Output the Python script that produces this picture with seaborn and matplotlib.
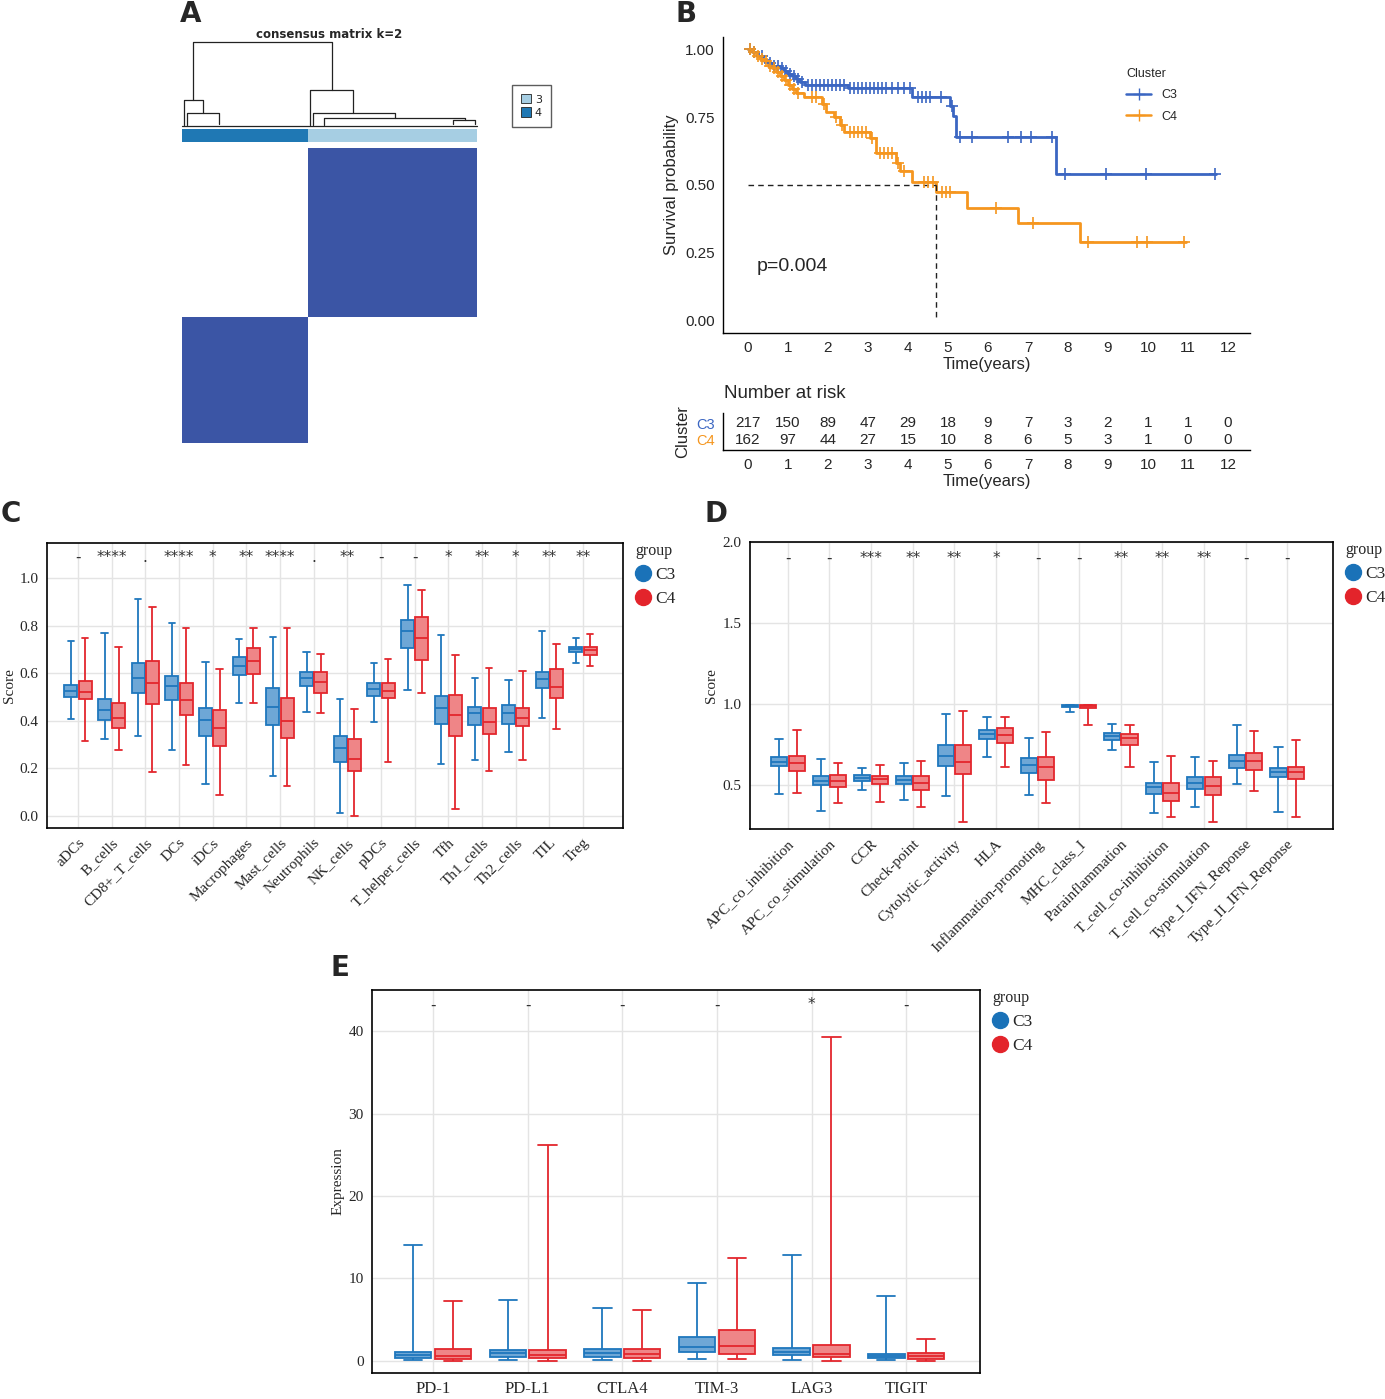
import numpy as np
import pandas as pd
import matplotlib
matplotlib.use('Agg')
import matplotlib.pyplot as plt
import seaborn as sns
from matplotlib.colors import ListedColormap
from matplotlib.lines import Line2D
from matplotlib.patches import Patch

# ---------------- A: consensus clustering ----------------
n_c3, n_c4 = 217, 162
# dendrogram links: (x_left, x_right, height, left child height, right child height), x in sample index
dendro_links = [
    (14.6, 193.1, 1.00, 0.318, 0.435),
    (2.6, 27.4, 0.318, 0.02, 0.161),
    (6.9, 48.0, 0.161, 0.02, 0.03),
    (164.5, 219.3, 0.435, 0.02, 0.169),
    (168.7, 273.7, 0.169, 0.02, 0.102),
    (182.9, 363.6, 0.102, 0.02, 0.082),
    (348.6, 376.4, 0.082, 0.03, 0.03),
]

# ---------------- B: Kaplan-Meier ----------------
km_c3_time = [0, 0.12, 0.25, 0.38, 0.5, 0.62, 0.8, 0.9, 1.0, 1.1, 1.2, 1.3, 1.42, 2.5, 4.1, 5.06, 5.13, 5.2, 7.71]
km_c3_surv = [1.0, 0.99, 0.975, 0.962, 0.95, 0.94, 0.93, 0.92, 0.91, 0.90, 0.89, 0.88, 0.868, 0.858, 0.824, 0.79, 0.755, 0.678, 0.542]
km_c3_end = 11.7
km_c3_censor = [0.05, 0.15, 0.35, 0.55, 0.65, 0.75, 0.85, 0.95, 1.05, 1.15, 1.25, 1.35, 1.5, 1.6, 1.7, 1.8, 1.9, 2.0,
                2.1, 2.2, 2.3, 2.4, 2.55, 2.65, 2.75, 2.85, 2.95, 3.05, 3.15, 3.25, 3.35, 3.45, 3.6, 3.75, 3.9, 4.05,
                4.25, 4.35, 4.45, 4.55, 4.82, 5.1, 5.3, 5.59, 6.49, 6.83, 7.07, 7.59, 7.93, 8.95, 9.95, 11.67]
km_c4_time = [0, 0.1, 0.2, 0.3, 0.4, 0.5, 0.6, 0.7, 0.8, 0.9, 1.0, 1.1, 1.2, 1.4, 1.85, 1.95, 2.15, 2.3, 2.4,
              3.05, 3.2, 3.7, 3.8, 4.1, 4.7, 5.47, 6.76, 8.31]
km_c4_surv = [1.0, 0.99, 0.975, 0.965, 0.955, 0.94, 0.93, 0.915, 0.9, 0.885, 0.87, 0.855, 0.84, 0.825, 0.80, 0.77,
              0.75, 0.72, 0.695, 0.674, 0.616, 0.58, 0.551, 0.512, 0.474, 0.416, 0.359, 0.289]
km_c4_end = 10.94
km_c4_censor = [0.05, 0.15, 0.25, 0.35, 0.45, 0.55, 0.65, 0.75, 0.85, 0.95, 1.05, 1.15, 1.25, 1.6, 1.7, 1.9, 2.2,
                2.35, 2.55, 2.65, 2.75, 2.85, 2.95, 3.1, 3.3, 3.4, 3.5, 3.6, 3.75, 3.9, 4.4, 4.5, 4.62, 4.85, 4.95,
                5.05, 6.21, 7.12, 8.5, 9.72, 9.98, 10.9]
median_c4 = 4.7
p_label = 'p=0.004'
risk_times = list(range(13))
risk_c3 = [217, 150, 89, 47, 29, 18, 9, 7, 3, 2, 1, 1, 0]
risk_c4 = [162, 97, 44, 27, 15, 10, 8, 6, 5, 3, 1, 0, 0]

# ---------------- C: immune cells ----------------
# (low whisker, q1, median, q3, high whisker)
immune_cells = ['aDCs', 'B_cells', 'CD8+_T_cells', 'DCs', 'iDCs', 'Macrophages', 'Mast_cells', 'Neutrophils',
                'NK_cells', 'pDCs', 'T_helper_cells', 'Tfh', 'Th1_cells', 'Th2_cells', 'TIL', 'Treg']
immune_sig = ['-', '****', '.', '****', '*', '**', '****', '.', '**', '-', '-', '*', '**', '*', '**', '**']
immune_c3 = [(0.408, 0.499, 0.527, 0.551, 0.736), (0.324, 0.405, 0.445, 0.490, 0.767),
             (0.337, 0.516, 0.579, 0.644, 0.912), (0.278, 0.488, 0.546, 0.589, 0.813),
             (0.136, 0.337, 0.403, 0.452, 0.648), (0.474, 0.593, 0.631, 0.670, 0.743),
             (0.168, 0.381, 0.460, 0.536, 0.752), (0.436, 0.548, 0.581, 0.606, 0.689),
             (0.013, 0.229, 0.285, 0.338, 0.492), (0.397, 0.506, 0.534, 0.561, 0.642),
             (0.530, 0.704, 0.776, 0.825, 0.972), (0.220, 0.388, 0.456, 0.506, 0.762),
             (0.237, 0.383, 0.432, 0.459, 0.578), (0.271, 0.387, 0.431, 0.468, 0.572),
             (0.411, 0.539, 0.576, 0.607, 0.778), (0.641, 0.690, 0.701, 0.712, 0.750)]
immune_c4 = [(0.317, 0.491, 0.523, 0.567, 0.746), (0.278, 0.369, 0.411, 0.473, 0.711),
             (0.185, 0.471, 0.557, 0.651, 0.879), (0.216, 0.426, 0.488, 0.561, 0.790),
             (0.087, 0.295, 0.370, 0.445, 0.617), (0.477, 0.597, 0.652, 0.708, 0.790),
             (0.128, 0.327, 0.401, 0.496, 0.790), (0.431, 0.519, 0.565, 0.604, 0.679),
             (0.000, 0.191, 0.241, 0.324, 0.450), (0.226, 0.494, 0.526, 0.558, 0.659),
             (0.516, 0.655, 0.750, 0.837, 0.950), (0.028, 0.338, 0.425, 0.509, 0.676),
             (0.188, 0.344, 0.397, 0.452, 0.623), (0.237, 0.377, 0.411, 0.454, 0.609),
             (0.367, 0.496, 0.544, 0.619, 0.721), (0.631, 0.676, 0.696, 0.712, 0.766)]

# ---------------- D: immune functions ----------------
immune_funcs = ['APC_co_inhibition', 'APC_co_stimulation', 'CCR', 'Check-point', 'Cytolytic_activity', 'HLA',
                'Inflammation-promoting', 'MHC_class_I', 'Parainflammation', 'T_cell_co-inhibition',
                'T_cell_co-stimulation', 'Type_I_IFN_Reponse', 'Type_II_IFN_Reponse']
func_sig = ['-', '-', '***', '**', '**', '*', '-', '-', '**', '**', '**', '-', '-']
func_c3 = [(0.448, 0.617, 0.644, 0.677, 0.786), (0.343, 0.502, 0.529, 0.554, 0.661),
           (0.471, 0.527, 0.545, 0.562, 0.609), (0.407, 0.506, 0.531, 0.556, 0.638),
           (0.434, 0.620, 0.681, 0.751, 0.937), (0.671, 0.786, 0.815, 0.842, 0.922),
           (0.442, 0.574, 0.626, 0.665, 0.793), (0.949, 0.982, 0.986, 0.992, 0.997),
           (0.718, 0.780, 0.803, 0.821, 0.879), (0.329, 0.444, 0.488, 0.514, 0.646),
           (0.368, 0.479, 0.516, 0.549, 0.675), (0.510, 0.607, 0.648, 0.688, 0.871),
           (0.335, 0.549, 0.580, 0.607, 0.737)]
func_c4 = [(0.451, 0.589, 0.636, 0.679, 0.842), (0.393, 0.488, 0.527, 0.564, 0.636),
           (0.395, 0.506, 0.537, 0.556, 0.622), (0.364, 0.469, 0.516, 0.556, 0.652),
           (0.271, 0.568, 0.646, 0.747, 0.957), (0.615, 0.758, 0.807, 0.850, 0.920),
           (0.389, 0.531, 0.611, 0.677, 0.828), (0.873, 0.978, 0.986, 0.992, 0.997),
           (0.615, 0.749, 0.791, 0.817, 0.871), (0.306, 0.403, 0.455, 0.514, 0.681),
           (0.271, 0.441, 0.498, 0.549, 0.652), (0.463, 0.595, 0.652, 0.696, 0.834),
           (0.306, 0.537, 0.580, 0.615, 0.776)]

# ---------------- E: checkpoints ----------------
checkpoints = ['PD-1', 'PD-L1', 'CTLA4', 'TIM-3', 'LAG3', 'TIGIT']
check_sig = ['-', '-', '-', '-', '*', '-']
check_c3 = [(0.08, 0.36, 0.73, 1.09, 14.0), (0.12, 0.40, 0.89, 1.29, 7.38), (0.08, 0.48, 0.93, 1.37, 6.38),
            (0.16, 1.05, 1.69, 2.90, 9.44), (0.08, 0.65, 1.09, 1.57, 12.79), (0.04, 0.28, 0.56, 0.77, 7.87)]
check_c4 = [(0.0, 0.20, 0.60, 1.37, 7.22), (0.0, 0.28, 0.73, 1.25, 26.15), (0.0, 0.32, 0.81, 1.41, 6.17),
            (0.16, 0.85, 1.78, 3.67, 12.47), (0.0, 0.44, 0.85, 1.90, 39.3), (0.0, 0.20, 0.60, 0.93, 2.58)]

# ---------------- style ----------------
sns.set_theme(style='whitegrid', rc={'grid.color': '#e4e4e4', 'grid.linewidth': 1.0,
                                     'axes.edgecolor': 'black', 'axes.linewidth': 1.0})
SERIF = 'Liberation Serif'
SANS = 'Liberation Sans'
plt.rcParams['font.family'] = [SERIF, 'DejaVu Serif']
box_fill = {'C3': '#6ea7d6', 'C4': '#ef8587'}
box_edge = {'C3': '#1f77bd', 'C4': '#e3262d'}
dot_col = {'C3': '#1a72b8', 'C4': '#e3242b'}
km_col = {'C3': '#3b66c2', 'C4': '#f5961f'}

W, H = 1385, 1399
fig = plt.figure(figsize=(W / 100, H / 100), dpi=100)
fig.patch.set_facecolor('white')


def px_axes(x0, y0, x1, y1):
    return fig.add_axes([x0 / W, 1 - y1 / H, (x1 - x0) / W, (y1 - y0) / H])


def letter(x, y, s):
    fig.text(x / W, 1 - y / H, s, fontsize=20, fontweight='bold', family='DejaVu Sans',
             ha='center', va='center')


# ================= A =================
labels_rows = np.array([3] * n_c3 + [4] * n_c4)
labels_cols = np.array([4] * n_c4 + [3] * n_c3)
consensus = (labels_rows[:, None] == labels_cols[None, :]).astype(float)

ax_hm = px_axes(182, 148, 477, 443)
sns.heatmap(consensus, cmap=ListedColormap(['white', '#3b55a5']), cbar=False,
            xticklabels=False, yticklabels=False, ax=ax_hm)

ax_bar = px_axes(182, 129, 477, 142)
sns.heatmap(labels_cols[None, :], cmap=ListedColormap(['#a6cee3', '#1f78b4']), cbar=False,
            xticklabels=False, yticklabels=False, ax=ax_bar)

ax_den = px_axes(182, 42, 477, 127)
for xl, xr, h, hl, hr in dendro_links:
    ax_den.plot([xl, xl, xr, xr], [hl, h, h, hr], color='#222222', lw=0.9, clip_on=False)
ax_den.plot([0, n_c3 + n_c4], [0.015, 0.015], color='#222222', lw=0.9, clip_on=False)
ax_den.set_xlim(0, n_c3 + n_c4)
ax_den.set_ylim(0, 1)
ax_den.axis('off')

fig.text(329.5 / W, 1 - 34 / H, 'consensus matrix k=2', fontsize=8.5, fontweight='bold',
         family='DejaVu Sans', ha='center', va='center')
fig.legend(handles=[Patch(fc='#a6cee3', ec='#222222', lw=0.6, label='3'),
                    Patch(fc='#1f78b4', ec='#222222', lw=0.6, label='4')],
           loc='center', bbox_to_anchor=(531.5 / W, 1 - 106 / H), frameon=True, fancybox=False,
           edgecolor='#333333', handlelength=0.9, handleheight=0.9, handletextpad=0.35,
           labelspacing=0.25, borderpad=0.8, prop={'family': 'DejaVu Sans', 'size': 8})
letter(191, 14, 'A')

# ================= B =================
ax_km = px_axes(723, 37, 1250, 333)
ax_km.set_facecolor('white')
for grp, tt, ss, te, cens in (('C3', km_c3_time, km_c3_surv, km_c3_end, km_c3_censor),
                              ('C4', km_c4_time, km_c4_surv, km_c4_end, km_c4_censor)):
    tt_ext = np.array(tt + [te])
    ss_ext = np.array(ss + [ss[-1]])
    sns.lineplot(x=tt_ext, y=ss_ext, drawstyle='steps-post', estimator=None, sort=False,
                 color=km_col[grp], lw=2.0, ax=ax_km)
    idx = np.searchsorted(np.array(tt), np.array(cens), side='right') - 1
    sns.scatterplot(x=cens, y=np.array(ss)[idx], marker='+', s=70, color=km_col[grp],
                    linewidth=1.2, ax=ax_km, zorder=3)
ax_km.plot([0, median_c4], [0.5, 0.5], ls=(0, (4, 3)), color='#222222', lw=1.0)
ax_km.plot([median_c4, median_c4], [0.5, 0.0], ls=(0, (4, 3)), color='#222222', lw=1.0)
ax_km.text(0.22, 0.2, p_label, fontsize=14, family=SANS, va='center', ha='left')
ax_km.set_xlim(-0.625, 12.55)
ax_km.set_ylim(-0.045, 1.045)
ax_km.grid(False)
for sp in ['top', 'right']:
    ax_km.spines[sp].set_visible(False)
ax_km.set_xticks(risk_times, labels=[str(t) for t in risk_times], fontfamily=SANS, fontsize=11)
yt = [0, 0.25, 0.5, 0.75, 1.0]
ax_km.set_yticks(yt, labels=[f'{v:.2f}' for v in yt], fontfamily=SANS, fontsize=11)
ax_km.tick_params(length=4, width=1, color='black', pad=2)
ax_km.set_xlabel('Time(years)', fontfamily=SANS, fontsize=12, labelpad=1)
ax_km.set_ylabel('Survival probability', fontfamily=SANS, fontsize=12, labelpad=4)
ax_km.legend(handles=[Line2D([], [], color=km_col[g], marker='+', markersize=8, lw=1.8, label=g)
                      for g in ['C3', 'C4']],
             title='Cluster', loc='upper left', bbox_to_anchor=((1121 - 723) / 527, 1 - (63 - 37) / 296),
             frameon=False, alignment='left', handlelength=2.0, labelspacing=0.75, borderaxespad=0,
             prop={'family': SANS, 'size': 9}, title_fontproperties={'family': SANS, 'size': 9})

ax_rk = px_axes(723, 413, 1250, 450)
ax_rk.set_facecolor('white')
ax_rk.grid(False)
for t, a, b in zip(risk_times, risk_c3, risk_c4):
    ax_rk.text(t, 1, str(a), ha='center', va='center', fontsize=11, family=SANS)
    ax_rk.text(t, 0, str(b), ha='center', va='center', fontsize=11, family=SANS)
ax_rk.set_xlim(-0.625, 12.55)
ax_rk.set_ylim(-0.6, 1.6)
for sp in ['top', 'right']:
    ax_rk.spines[sp].set_visible(False)
ax_rk.set_xticks(risk_times, labels=[str(t) for t in risk_times], fontfamily=SANS, fontsize=11)
ax_rk.set_yticks([1, 0], labels=['C3', 'C4'], fontfamily=SANS, fontsize=10.5)
for lab, g in zip(ax_rk.get_yticklabels(), ['C3', 'C4']):
    lab.set_color(km_col[g])
ax_rk.tick_params(length=4, width=1, color='black', pad=2)
ax_rk.set_xlabel('Time(years)', fontfamily=SANS, fontsize=12, labelpad=1)
ax_rk.set_ylabel('Cluster', fontfamily=SANS, fontsize=12, labelpad=4)
fig.text(724 / W, 1 - 394 / H, 'Number at risk', fontsize=13.5, family=SANS, va='center', ha='left')
letter(686, 14, 'B')


# ================= box panels =================
def box_panel(ax, cats, c3, c4, sig, sig_y, xlim, ylim, yticks, ylabels, ylabel, rot, xfs, width_px):
    rows = []
    for grp, stats in (('C3', c3), ('C4', c4)):
        for cat, s in zip(cats, stats):
            for v in s:
                rows.append({'cat': cat, 'group': grp, 'value': v})
    df = pd.DataFrame(rows)
    for grp in ['C3', 'C4']:
        sns.boxplot(data=df[df['group'] == grp], x='cat', y='value', hue='group', order=cats,
                    hue_order=['C3', 'C4'], palette=box_fill, linecolor=box_edge[grp], dodge=True,
                    whis=(0, 100), width=0.84, gap=0.08, linewidth=1.3, saturation=1,
                    showfliers=False, legend=False, ax=ax)
    for i, s in enumerate(sig):
        ax.text(i, sig_y, s, ha='center', va='center', fontsize=11, color='#333333',
                family='DejaVu Sans')
    ax.set_xlim(*xlim)
    ax.set_ylim(*ylim)
    ax.set_facecolor('white')
    ax.grid(True, axis='both', color='#e4e4e4', lw=1.0)
    ax.set_axisbelow(True)
    for sp in ax.spines.values():
        sp.set_visible(True)
        sp.set_color('black')
        sp.set_linewidth(1.2)
    ax.set_yticks(yticks, labels=ylabels, fontsize=11, fontfamily=SERIF)
    if rot:
        ax.set_xticks(range(len(cats)), labels=cats, rotation=45, ha='right', rotation_mode='anchor',
                      fontsize=xfs, fontfamily=SERIF)
    else:
        ax.set_xticks(range(len(cats)), labels=cats, fontsize=xfs, fontfamily=SERIF)
    ax.tick_params(axis='both', length=4, width=1, color='black', pad=2)
    ax.set_xlabel('')
    ax.set_ylabel(ylabel, fontsize=11, labelpad=3, fontfamily=SERIF)
    ax.legend(handles=[Line2D([], [], marker='o', ls='', color=dot_col[g], markersize=11.5, label=g)
                       for g in ['C3', 'C4']],
              title='group', loc='upper left', bbox_to_anchor=(1 + 12 / width_px, 1.0), frameon=False,
              alignment='left', handlelength=0.9, handletextpad=0.25, labelspacing=0.45,
              borderaxespad=0, borderpad=0, prop={'family': SERIF, 'size': 12.5},
              title_fontproperties={'family': SERIF, 'size': 11.5})


ax_c = px_axes(47, 543, 623, 828)
box_panel(ax_c, immune_cells, immune_c3, immune_c4, immune_sig, 1.088, (-0.92, 16.19), (-0.05, 1.147),
          [0, 0.2, 0.4, 0.6, 0.8, 1.0], ['0.0', '0.2', '0.4', '0.6', '0.8', '1.0'], 'Score', True, 11, 576)
letter(11, 514, 'C')

ax_d = px_axes(750, 542, 1333, 829)
box_panel(ax_d, immune_funcs, func_c3, func_c4, func_sig, 1.90, (-0.91, 13.1), (0.23, 2.0),
          [0.5, 1.0, 1.5, 2.0], ['0.5', '1.0', '1.5', '2.0'], 'Score', True, 11, 583)
letter(716, 514, 'D')

ax_e = px_axes(372, 990, 980, 1373)
box_panel(ax_e, checkpoints, check_c3, check_c4, check_sig, 43.2, (-0.645, 5.78), (-1.5, 45),
          [0, 10, 20, 30, 40], ['0', '10', '20', '30', '40'], 'Expression', False, 12, 608)
letter(340, 968, 'E')

fig.savefig('out.png', dpi=100, facecolor='white')
